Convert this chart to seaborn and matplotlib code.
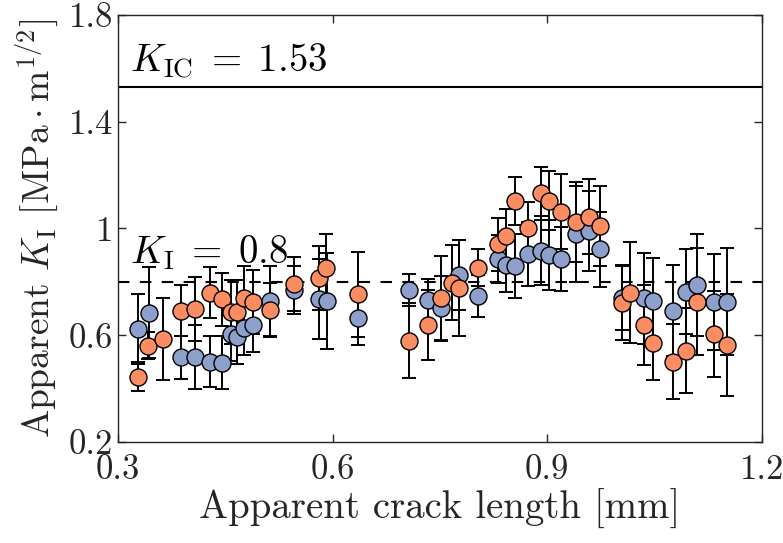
import matplotlib
matplotlib.use("Agg")
import matplotlib.pyplot as plt
import numpy as np
import pandas as pd
import seaborn as sns

# Apparent stress intensity factor versus apparent crack length, two specimens
x_blue = [0.328, 0.343, 0.388, 0.408, 0.429, 0.445, 0.458, 0.467, 0.476, 0.489,
          0.513, 0.546, 0.581, 0.592, 0.636, 0.707, 0.734, 0.751, 0.776, 0.803,
          0.831, 0.843, 0.855, 0.873, 0.891, 0.903, 0.919, 0.940, 0.958, 0.974,
          1.004, 1.035, 1.048, 1.076, 1.094, 1.110, 1.133, 1.151]
k_blue = [0.624, 0.685, 0.517, 0.517, 0.501, 0.497, 0.604, 0.592, 0.626, 0.638,
          0.728, 0.770, 0.736, 0.728, 0.664, 0.770, 0.732, 0.701, 0.826, 0.747,
          0.885, 0.863, 0.860, 0.905, 0.917, 0.901, 0.885, 0.979, 0.991, 0.922,
          0.739, 0.739, 0.730, 0.692, 0.763, 0.788, 0.726, 0.726]
err_blue = [0.13, 0.17, 0.08, 0.12, 0.095, 0.10, 0.10, 0.10, 0.10, 0.10,
            0.13, 0.09, 0.15, 0.18, 0.10, 0.06, 0.08, 0.12, 0.13, 0.08,
            0.09, 0.10, 0.12, 0.12, 0.13, 0.13, 0.12, 0.18, 0.15, 0.14,
            0.12, 0.17, 0.16, 0.17, 0.16, 0.19, 0.18, 0.20]

x_orange = [0.328, 0.342, 0.3625, 0.388, 0.408, 0.429, 0.445, 0.458, 0.467, 0.476,
            0.489, 0.513, 0.546, 0.581, 0.591, 0.636, 0.707, 0.734, 0.751, 0.767,
            0.776, 0.803, 0.831, 0.843, 0.855, 0.873, 0.891, 0.903, 0.919, 0.940,
            0.958, 0.974, 1.004, 1.016, 1.035, 1.048, 1.076, 1.094, 1.110, 1.133,
            1.151]
k_orange = [0.445, 0.561, 0.586, 0.692, 0.698, 0.760, 0.735, 0.688, 0.688, 0.741,
            0.726, 0.695, 0.792, 0.813, 0.851, 0.753, 0.580, 0.638, 0.738, 0.797,
            0.776, 0.853, 0.941, 0.972, 1.103, 1.001, 1.132, 1.104, 1.063, 1.026,
            1.044, 1.009, 0.722, 0.760, 0.638, 0.572, 0.501, 0.542, 0.726, 0.604,
            0.564]
err_orange = [0.055, 0.05, 0.155, 0.095, 0.12, 0.095, 0.10, 0.12, 0.12, 0.12,
              0.12, 0.10, 0.10, 0.12, 0.13, 0.16, 0.14, 0.13, 0.16, 0.14,
              0.18, 0.07, 0.10, 0.10, 0.09, 0.10, 0.10, 0.11, 0.14, 0.15,
              0.14, 0.15, 0.14, 0.19, 0.15, 0.14, 0.14, 0.16, 0.20, 0.16,
              0.19]

K_IC = 1.53
K_I_ref = 0.8

x_ticks = [0.3, 0.6, 0.9, 1.2]
y_ticks = [0.2, 0.6, 1.0, 1.4, 1.8]
y_tick_labels = ["0.2", "0.6", "1", "1.4", "1.8"]

sns.set_style("ticks")
plt.rcParams["font.family"] = ["cmr10", "DejaVu Serif"]
plt.rcParams["mathtext.fontset"] = "cm"
plt.rcParams["axes.formatter.use_mathtext"] = True
plt.rcParams["axes.unicode_minus"] = False

palette = sns.color_palette("Set2")
c_orange = palette[1]
c_blue = palette[2]

df_blue = pd.DataFrame({"a": x_blue, "K": k_blue, "e": err_blue})
df_orange = pd.DataFrame({"a": x_orange, "K": k_orange, "e": err_orange})

fig = plt.figure(figsize=(7.83, 5.43), dpi=100)
ax = fig.add_axes([0.1507, 0.186, 0.8223, 0.7864])

ax.axhline(K_IC, color="black", lw=1.5, zorder=1)
ax.axhline(K_I_ref, color="black", lw=1.5, ls=(0, (5.5, 5)), zorder=1)

for df in (df_blue, df_orange):
    ax.errorbar(df["a"], df["K"], yerr=df["e"], fmt="none", ecolor="black",
                elinewidth=1.4, capsize=5, capthick=1.4, zorder=2)
for df, col in [(df_blue, c_blue), (df_orange, c_orange)]:
    sns.scatterplot(data=df, x="a", y="K", ax=ax, color=col, s=150,
                    edgecolor="black", linewidth=1.0, zorder=3, legend=False)

ax.text(0.3168, 1.586, r"$K_\mathrm{IC}\;=\;1.53$", fontsize=28,
        color="black", ha="left", va="baseline")
ax.text(0.3168, 0.871, r"$K_\mathrm{I}\;=\;0.8$", fontsize=28,
        color="black", ha="left", va="baseline")

ax.set_xlim(0.3, 1.2)
ax.set_ylim(0.2, 1.8)
ax.set_xticks(x_ticks)
ax.set_xticklabels([f"{v:g}" for v in x_ticks])
ax.set_yticks(y_ticks)
ax.set_yticklabels(y_tick_labels)
ax.tick_params(direction="in", length=6, width=1, labelsize=25, top=True,
               right=True, colors="#262626", labelcolor="#262626")
ax.tick_params(axis="x", pad=9)
for sp in ax.spines.values():
    sp.set_linewidth(1.0)
    sp.set_color("#262626")

ax.set_xlabel("Apparent crack length [mm]", fontsize=28, color="#262626",
              labelpad=2)
ax.set_ylabel(r"Apparent $K_\mathrm{I}$ $[\mathrm{MPa}\cdot\mathrm{m}^{1/2}]$",
              fontsize=27, color="#262626", labelpad=6)

fig.savefig("out.png", dpi=100)
